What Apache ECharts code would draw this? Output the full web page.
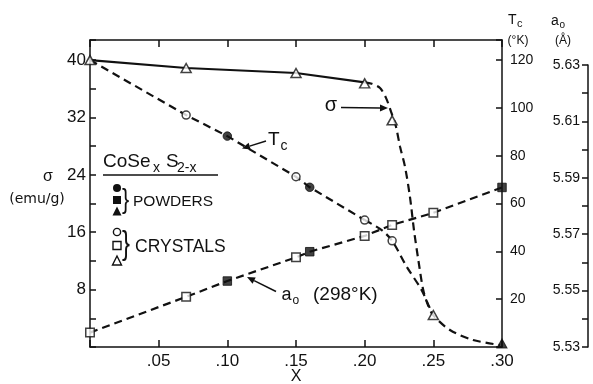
<!DOCTYPE html>
<html><head><meta charset="utf-8">
<script src="https://cdn.jsdelivr.net/npm/echarts@6/dist/echarts.min.js"></script>
<style>html,body{margin:0;padding:0;background:#fff}#c{width:593px;height:384px}</style>
</head><body><div id="c"></div>
<script>
// ---- data ----
const xCrystalSigma = [0, 0.07, 0.15, 0.20, 0.22, 0.25];
const sigmaCrystal  = [40, 38.9, 38.2, 36.75, 31.6, 4.46];
const xPowderSigma  = [0.30];
const sigmaPowder   = [0.5];

const xCrystalTc = [0.07, 0.15, 0.20, 0.22];
const tcCrystal  = [97, 71.2, 53.1, 44.4];
const xPowderTc  = [0.10, 0.16];
const tcPowder   = [88.2, 66.8];

const xCrystalA0 = [0, 0.07, 0.15, 0.20, 0.22, 0.25];
const a0Crystal  = [5.5351, 5.5478, 5.5618, 5.5694, 5.5733, 5.5776];
const xPowderA0  = [0.10, 0.16, 0.30];
const a0Powder   = [5.5534, 5.5638, 5.5866];

// drawn curves
const sigmaSolidX = [0, 0.07, 0.15, 0.20];
const sigmaSolidY = [40, 38.9, 38.2, 36.9];
const sigmaCurveX = [0.20, 0.2052, 0.2112, 0.2156, 0.2192, 0.2221, 0.2234, 0.2258, 0.2294, 0.2330, 0.2359, 0.2391, 0.2427, 0.2461, 0.2498, 0.2621, 0.2789, 0.2986];
const sigmaCurveY = [36.9, 36.7, 36.1, 34.7, 32.8, 31.2, 30.2, 27.9, 25.1, 20.9, 16.3, 12.1, 7.9, 5.85, 4.46, 2.37, 0.98, 0.28];
const tcLineX = [0, 0.07, 0.10, 0.15, 0.16, 0.20];
const tcLineY = [120, 97, 88.2, 71.2, 66.8, 53.1];
const tcTailX = [0.20, 0.2124, 0.22, 0.2306, 0.2415, 0.247, 0.2498];
const tcTailY = [53.1, 48.9, 44.4, 33.6, 23.8, 16.8, 13.4];
const a0LineX = [0, 0.07, 0.10, 0.15, 0.16, 0.20, 0.22, 0.25, 0.30];
const a0LineY = [5.5351, 5.5478, 5.5534, 5.5618, 5.5638, 5.5694, 5.5733, 5.5776, 5.5866];

const xTicks = [0.05, 0.10, 0.15, 0.20, 0.25, 0.30];

const zip = (a, b) => a.map((v, i) => [v, b[i]]);
const INK = '#111';
const FF = 'Liberation Sans, Arial, sans-serif';
const axLine = {show: true, onZero: false, lineStyle: {color: INK, width: 1.5}};

const chart = echarts.init(document.getElementById('c'), null, {renderer: 'canvas'});

function arrow(x1, y1, x2, y2) {
  const a = Math.atan2(y2 - y1, x2 - x1), L = 8, W = 3.5;
  const bx = x2 - L * Math.cos(a), by = y2 - L * Math.sin(a);
  const px = -Math.sin(a) * W, py = Math.cos(a) * W;
  return [
    {type: 'line', shape: {x1, y1, x2: bx, y2: by}, style: {stroke: INK, lineWidth: 1.5}},
    {type: 'polygon', shape: {points: [[x2, y2], [bx + px, by + py], [bx - px, by - py]]}, style: {fill: INK}}
  ];
}
function txt(x, y, text, size, extra) {
  return {type: 'text', x, y, style: Object.assign({text, fontSize: size, fontFamily: FF, fill: INK, align: 'left', verticalAlign: 'middle'}, extra || {})};
}
const openS = {color: '#fff', borderColor: INK, borderWidth: 1.5};
const fillS = {color: INK, borderColor: INK, borderWidth: 1};
function tri(cx, cy, s, filled) {
  return {type: 'polygon', shape: {points: [[cx, cy - s * 0.55], [cx - s / 2, cy + s * 0.45], [cx + s / 2, cy + s * 0.45]]},
    style: filled ? {fill: INK} : {fill: '#fff', stroke: INK, lineWidth: 1.4}};
}

const graphic = [
  // left axis title
  txt(48, 177, 'σ', 16, {align: 'center'}),
  txt(37, 199, '(emu/g)', 14, {align: 'center', fontFamily: 'DejaVu Sans'}),
  // Tc axis title
  txt(508, 20, 'T', 14),
  txt(517, 24, 'c', 11),
  txt(518, 41, '(°K)', 12, {align: 'center'}),
  // a0 axis title
  txt(551, 21, 'a', 14),
  txt(559.5, 25, 'o', 10),
  txt(563, 41, '(Å)', 12, {align: 'center'}),
  // x title
  txt(296, 377, 'X', 16, {align: 'center'}),
  // legend block
  txt(103, 162, 'CoSe', 19),
  txt(153, 168, 'x', 14),
  txt(166, 162, 'S', 19),
  txt(177, 168, '2-x', 14),
  {type: 'line', shape: {x1: 103, y1: 175, x2: 218, y2: 175}, style: {stroke: INK, lineWidth: 1.6}},
  {type: 'circle', shape: {cx: 117, cy: 188, r: 4}, style: {fill: INK}},
  {type: 'rect', shape: {x: 113, y: 196, width: 8, height: 8}, style: {fill: INK}},
  tri(117, 211.5, 9, true),
  Object.assign(txt(122, 201, '}', 27), {scaleX: 0.8, originX: 0, originY: 0}),
  txt(133, 202, 'POWDERS', 15.5),
  {type: 'circle', shape: {cx: 117, cy: 232, r: 3.6}, style: {fill: '#fff', stroke: INK, lineWidth: 1.4}},
  {type: 'rect', shape: {x: 113, y: 241.5, width: 8, height: 8}, style: {fill: '#fff', stroke: INK, lineWidth: 1.4}},
  tri(117, 261, 9, false),
  Object.assign(txt(122, 245, '}', 34), {scaleX: 0.7, originX: 0, originY: 0}),
  txt(135, 247, 'CRYSTALS', 17.5),
  // annotations
  txt(268, 140, 'T', 19),
  txt(280.5, 146, 'c', 14),
  txt(331, 105.5, 'σ', 20, {align: 'center'}),
  txt(281.5, 295, 'a', 18),
  txt(292.5, 301, 'o', 12),
  txt(313, 295, '(298°K)', 19),
  ...arrow(266, 141, 242, 148.5),
  ...arrow(341, 107.5, 388, 108),
  ...arrow(276, 291.5, 247, 277)
];

const lineS = (data, yi, dashed, smooth) => ({
  type: 'line', xAxisIndex: 0, yAxisIndex: yi, data, symbol: 'none', smooth: smooth || false,
  lineStyle: {color: INK, width: 2.2, type: dashed ? [8, 5] : 'solid'}, silent: true, z: 2
});
const scat = (data, yi, symbol, size, style) => ({
  type: 'scatter', xAxisIndex: 0, yAxisIndex: yi, data, symbol, symbolSize: size, itemStyle: style, silent: true, z: 5
});

chart.setOption({
  animation: false,
  backgroundColor: '#fff',
  textStyle: {fontFamily: FF},
  grid: [
    {left: 90, right: 91, top: 40, bottom: 37},
    {left: 588, right: 3, top: 65, bottom: 37}
  ],
  xAxis: [
    {type: 'value', gridIndex: 0, position: 'bottom', min: 0, max: 0.30, interval: 0.05,
      axisLine: axLine, axisTick: {inside: true, length: 7, lineStyle: {color: INK, width: 1.5}},
      axisLabel: {margin: 6, fontSize: 17, color: INK, fontFamily: FF,
        formatter: v => (v > 0.001 ? v.toFixed(2).slice(1) : '')},
      splitLine: {show: false}},
    {type: 'value', gridIndex: 0, position: 'top', min: 0, max: 0.30, interval: 0.05,
      axisLine: axLine, axisTick: {inside: true, length: 7, lineStyle: {color: INK, width: 1.5}},
      axisLabel: {show: false}, splitLine: {show: false}},
    {type: 'value', gridIndex: 1, min: 0, max: 1, show: false}
  ],
  yAxis: [
    {type: 'value', gridIndex: 0, position: 'left', min: 0, max: 42.8, interval: 4,
      axisLine: axLine, axisTick: {inside: true, length: 6, lineStyle: {color: INK, width: 1.5}},
      axisLabel: {margin: 4, fontSize: 17, color: INK, fontFamily: FF,
        formatter: v => { const r = Math.round(v); return (Math.abs(v - r) < 1e-6 && r > 0 && r <= 40 && r % 8 === 0) ? String(r) : ''; }},
      splitLine: {show: false}},
    {type: 'value', gridIndex: 0, position: 'right', min: 0, max: 128.4, interval: 20,
      axisLine: axLine, axisTick: {inside: true, length: 6, lineStyle: {color: INK, width: 1.5}},
      axisLabel: {margin: 8, fontSize: 14, color: INK, fontFamily: FF,
        formatter: v => { const r = Math.round(v); return (Math.abs(v - r) < 1e-6 && r > 0 && r <= 120) ? String(r) : ''; }},
      splitLine: {show: false}},
    {type: 'value', gridIndex: 0, min: 5.53, max: 5.6389, show: false},
    {type: 'value', gridIndex: 1, position: 'left', min: 5.53, max: 5.63, interval: 0.01,
      axisLine: axLine, axisTick: {inside: false, length: 6, lineStyle: {color: INK, width: 1.5}},
      axisLabel: {margin: 8, fontSize: 14, color: INK, fontFamily: FF,
        formatter: v => { const k = Math.round((v - 5.53) / 0.01); return k % 2 === 0 ? v.toFixed(2) : ''; }},
      splitLine: {show: false}}
  ],
  series: [
    lineS(zip(sigmaSolidX, sigmaSolidY), 0, false),
    lineS(zip(sigmaCurveX, sigmaCurveY), 0, true, 0.3),
    lineS(zip(tcLineX, tcLineY), 1, true),
    lineS(zip(tcTailX, tcTailY), 1, true, 0.3),
    lineS(zip(a0LineX, a0LineY), 2, true),
    scat(zip(xCrystalSigma, sigmaCrystal), 0, 'triangle', [10, 9], openS),
    scat(zip(xPowderSigma, sigmaPowder), 0, 'triangle', [10, 9], fillS),
    scat(zip(xCrystalTc, tcCrystal), 1, 'circle', 8, openS),
    scat(zip(xPowderTc, tcPowder), 1, 'circle', 8.5, fillS),
    scat(zip(xCrystalA0, a0Crystal), 2, 'rect', 8.5, openS),
    scat(zip(xPowderA0, a0Powder), 2, 'rect', 8.5, fillS)
  ],
  graphic
});
</script></body></html>
